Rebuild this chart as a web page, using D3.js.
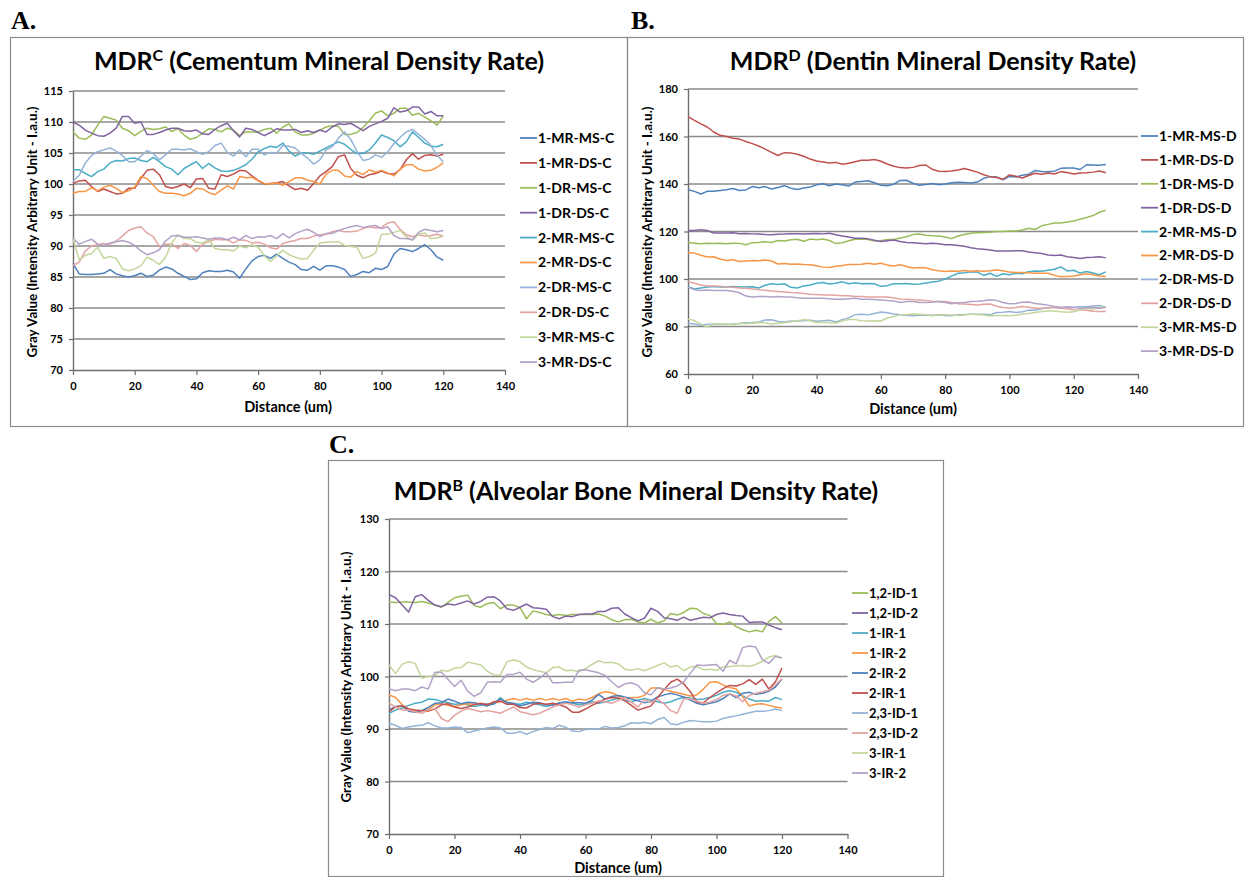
<!DOCTYPE html>
<html>
<head>
<meta charset="utf-8">
<script src="https://cdn.jsdelivr.net/npm/d3@7"></script>
<style>
  body { margin: 0; background: #fff; }
  svg { display: block; }
  text { font-family: Lato, "Open Sans", sans-serif; font-weight: bold; fill: #000; }
</style>
</head>
<body>
<svg id="fig" width="1248" height="877"></svg>
<script>
// distances (um) sampled every 2 um
const distA = d3.range(0, 121, 2)
const distB = d3.range(0, 131, 2)
const distC = d3.range(0, 121, 2)
const distTicks = [0, 20, 40, 60, 80, 100, 120, 140]

const ticksA = [70, 75, 80, 85, 90, 95, 100, 105, 110, 115]
const ticksB = [60, 80, 100, 120, 140, 160, 180]
const ticksC = [70, 80, 90, 100, 110, 120, 130]

const namesA = ["1-MR-MS-C", "1-MR-DS-C", "1-DR-MS-C", "1-DR-DS-C", "2-MR-MS-C", "2-MR-DS-C", "2-DR-MS-C", "2-DR-DS-C", "3-MR-MS-C", "3-MR-DS-C"]
const namesB = ["1-MR-MS-D", "1-MR-DS-D", "1-DR-MS-D", "1-DR-DS-D", "2-MR-MS-D", "2-MR-DS-D", "2-DR-MS-D", "2-DR-DS-D", "3-MR-MS-D", "3-MR-DS-D"]
const namesC = ["1,2-ID-1", "1,2-ID-2", "1-IR-1", "1-IR-2", "2-IR-2", "2-IR-1", "2,3-ID-1", "2,3-ID-2", "3-IR-1", "3-IR-2"]

// ---- A. cementum ----
const cemMRMS1 = [87.2, 85.5, 85.4, 85.4, 85.5, 85.6, 86.2, 85.5, 85.2, 85.0,
  85.2, 85.6, 85.1, 85.3, 86.1, 86.6, 86.3, 85.6, 85.1, 84.6,
  84.7, 85.7, 86.0, 85.9, 85.9, 86.1, 85.8, 84.8, 86.3, 87.6,
  88.3, 88.5, 88.0, 88.7, 88.0, 87.4, 87.0, 86.2, 86.1, 86.7,
  86.1, 86.8, 86.8, 86.6, 86.2, 85.1, 85.4, 85.9, 85.7, 86.4,
  86.2, 86.7, 88.7, 89.6, 89.4, 89.1, 89.6, 90.2, 89.4, 88.2, 87.7]
const cemMRDS1 = [100.1, 100.5, 100.6, 99.6, 98.8, 99.2, 98.8, 98.4, 98.5, 99.3,
  99.3, 100.9, 102.2, 102.4, 101.5, 99.6, 99.3, 99.6, 100.0, 99.4,
  100.8, 100.9, 99.3, 99.2, 101.5, 101.2, 101.6, 102.2, 102.1, 101.3,
  100.6, 100.0, 100.1, 100.2, 100.4, 99.7, 99.1, 99.3, 99.0, 100.1,
  101.3, 102.0, 102.8, 104.4, 104.7, 102.5, 101.4, 101.0, 101.5, 101.7,
  102.1, 101.7, 101.6, 102.3, 103.9, 104.9, 104.0, 104.6, 104.7, 104.5, 104.8]
const cemDRMS1 = [108.4, 107.4, 107.2, 107.9, 109.5, 110.9, 110.6, 110.3, 109.0, 108.6,
  107.8, 108.5, 109.0, 108.8, 108.9, 109.2, 108.5, 108.9, 107.9, 107.2,
  107.5, 108.2, 108.9, 108.8, 108.4, 109.0, 108.7, 107.8, 108.4, 108.4,
  108.4, 108.8, 109.0, 108.2, 109.2, 109.7, 108.4, 107.9, 107.9, 108.2,
  108.7, 109.2, 109.4, 109.3, 108.0, 108.0, 108.3, 109.1, 110.2, 111.4,
  111.8, 111.0, 111.4, 112.2, 112.2, 111.1, 111.4, 110.8, 110.2, 109.5, 111.0]
const cemDRDS1 = [110.0, 109.5, 108.7, 108.2, 107.8, 107.7, 108.2, 109.0, 110.9, 110.9,
  109.8, 110.0, 108.0, 108.0, 108.3, 108.7, 109.0, 109.0, 108.6, 108.5,
  108.7, 108.1, 108.0, 108.8, 109.4, 109.8, 108.6, 107.6, 109.0, 108.8,
  108.3, 107.8, 108.3, 108.9, 108.7, 108.7, 108.8, 108.3, 108.6, 108.3,
  108.7, 108.4, 109.2, 109.7, 109.6, 109.8, 109.2, 108.6, 109.3, 109.7,
  110.1, 110.6, 112.3, 111.6, 111.8, 112.4, 112.4, 111.3, 111.7, 111.0, 111.0]
const cemMRMS2 = [102.3, 102.3, 101.7, 101.2, 102.0, 102.4, 103.4, 103.8, 103.7, 104.1,
  104.2, 103.8, 103.6, 104.3, 103.6, 102.8, 102.4, 101.5, 102.5, 103.1,
  103.6, 102.5, 103.3, 102.6, 102.1, 102.0, 102.2, 102.6, 103.1, 104.0,
  105.2, 105.7, 106.1, 105.9, 106.6, 105.3, 104.5, 105.0, 105.0, 104.8,
  105.3, 105.8, 106.3, 106.8, 106.4, 105.6, 104.9, 104.9, 105.5, 106.6,
  107.9, 107.5, 107.0, 106.0, 106.8, 108.4, 107.5, 106.6, 106.1, 106.0, 106.4]
const cemMRDS2 = [98.5, 98.8, 98.8, 99.4, 98.9, 99.5, 99.8, 99.3, 98.6, 98.9,
  99.5, 101.2, 100.9, 99.8, 98.8, 98.5, 98.5, 98.4, 98.1, 98.5,
  99.3, 99.2, 98.6, 98.3, 99.0, 99.7, 99.2, 101.2, 101.0, 101.1,
  100.5, 100.1, 100.0, 100.2, 99.8, 100.4, 101.0, 101.0, 100.6, 100.4,
  100.0, 101.6, 102.2, 102.2, 101.3, 101.1, 102.0, 101.5, 102.3, 101.9,
  102.2, 101.8, 101.3, 102.4, 103.1, 103.1, 102.4, 102.1, 102.2, 102.7, 103.4]
const cemDRMS2 = [100.4, 101.4, 103.4, 104.6, 105.2, 105.5, 105.8, 105.3, 104.6, 103.6,
  103.6, 104.5, 105.4, 104.9, 103.9, 104.7, 105.6, 105.6, 105.5, 105.7,
  105.2, 104.8, 105.2, 106.2, 106.6, 105.1, 104.5, 105.5, 104.4, 105.6,
  105.6, 104.7, 105.1, 105.0, 106.2, 106.1, 105.8, 104.9, 104.2, 103.2,
  103.9, 105.5, 106.0, 107.4, 108.4, 107.2, 105.3, 103.8, 104.0, 104.7,
  104.3, 105.2, 106.5, 107.5, 108.4, 108.8, 108.0, 107.2, 106.2, 104.6, 103.6]
const cemDRDS2 = [86.9, 87.4, 89.2, 90.0, 90.2, 90.4, 90.3, 90.8, 91.6, 92.5,
  92.9, 93.1, 92.1, 91.5, 89.9, 90.3, 90.3, 89.6, 90.4, 90.1,
  89.1, 90.3, 90.7, 91.1, 91.0, 91.0, 90.5, 91.0, 90.9, 90.5,
  90.6, 90.3, 89.7, 89.5, 90.4, 90.7, 90.9, 91.2, 91.2, 91.6,
  91.8, 91.9, 92.3, 92.5, 92.3, 92.3, 92.4, 92.8, 93.1, 92.9,
  93.0, 93.7, 93.9, 92.7, 91.8, 91.5, 91.8, 91.6, 91.7, 91.9, 91.6]
const cemMRMS3 = [91.2, 87.8, 88.5, 88.8, 89.8, 88.0, 88.3, 88.0, 86.3, 86.0,
  86.3, 86.8, 88.2, 87.7, 87.0, 88.2, 90.5, 91.8, 91.2, 91.2,
  90.6, 90.5, 91.0, 89.6, 89.4, 89.4, 89.2, 90.0, 89.7, 90.2,
  89.8, 88.4, 87.5, 88.4, 89.3, 88.6, 88.2, 87.9, 88.0, 89.3,
  90.5, 90.6, 90.7, 90.7, 90.1, 89.9, 89.8, 88.0, 88.3, 88.8,
  91.9, 91.9, 92.2, 92.5, 91.5, 90.9, 91.9, 92.1, 91.2, 91.3, 91.6]
const cemMRDS3 = [91.2, 90.3, 90.7, 91.1, 90.3, 90.1, 90.5, 90.7, 90.9, 90.6,
  90.1, 89.2, 88.6, 88.9, 89.4, 90.8, 91.6, 91.7, 91.4, 91.4,
  91.5, 91.3, 91.1, 91.3, 91.3, 91.0, 91.4, 91.0, 91.7, 91.2,
  91.5, 91.4, 91.7, 91.2, 92.0, 91.3, 92.0, 92.4, 92.7, 92.2,
  91.5, 92.0, 92.0, 92.5, 92.8, 93.1, 93.3, 93.0, 93.2, 93.3,
  92.8, 93.1, 91.7, 91.2, 91.2, 91.0, 92.2, 92.7, 92.5, 92.3, 92.5]

// ---- B. dentin ----
const denMRMS1 = [137.6, 136.9, 135.8, 136.9, 136.9, 137.3, 137.6, 138.1, 137.3, 137.5,
  138.9, 138.4, 138.9, 137.9, 138.5, 139.3, 138.2, 137.7, 138.3, 138.7,
  139.7, 140.1, 139.3, 140.0, 139.7, 139.1, 140.8, 141.1, 141.4, 140.5,
  139.5, 139.3, 139.9, 141.5, 141.6, 140.3, 139.5, 139.8, 140.2, 139.7,
  140.0, 140.5, 140.7, 140.6, 140.4, 140.8, 142.4, 143.1, 143.0, 141.8,
  143.2, 142.9, 143.7, 144.1, 145.7, 145.3, 145.2, 145.4, 146.6, 146.7,
  146.7, 146.1, 148.1, 148.0, 147.9, 148.2]
const denMRDS1 = [168.4, 166.8, 165.3, 164.0, 161.9, 160.5, 160.0, 159.3, 158.9, 157.9,
  157.0, 156.0, 154.7, 153.3, 152.0, 153.2, 153.1, 152.5, 151.7, 150.5,
  149.7, 149.3, 148.8, 149.1, 148.3, 148.7, 149.4, 150.0, 150.0, 150.3,
  149.6, 148.4, 147.5, 146.9, 146.7, 147.0, 147.8, 148.0, 146.2, 145.4,
  145.3, 145.5, 145.9, 146.5, 145.8, 145.0, 143.9, 143.1, 142.7, 142.0,
  143.8, 143.3, 142.5, 143.6, 144.5, 144.1, 144.6, 144.2, 145.2, 144.8,
  144.2, 144.6, 144.7, 145.0, 145.5, 144.7]
const denDRMS1 = [115.4, 115.1, 114.8, 115.1, 114.9, 115.1, 114.8, 115.1, 115.0, 114.4,
  115.3, 115.4, 115.7, 115.4, 116.2, 116.0, 116.5, 116.7, 115.9, 116.8,
  116.5, 116.8, 116.2, 114.9, 115.3, 116.1, 116.7, 116.8, 116.6, 116.0,
  116.1, 116.6, 116.6, 117.3, 117.8, 118.7, 118.9, 118.4, 118.2, 118.1,
  117.7, 117.0, 118.1, 118.7, 119.3, 119.5, 119.6, 119.7, 120.0, 120.0,
  120.2, 120.2, 120.6, 121.4, 120.8, 122.4, 123.0, 123.6, 123.6, 124.0,
  124.4, 125.2, 125.9, 126.7, 128.1, 128.9]
const denDRDS1 = [120.4, 120.4, 120.7, 120.4, 119.4, 119.4, 119.4, 119.5, 119.1, 119.2,
  119.0, 118.9, 118.7, 118.6, 118.8, 118.9, 119.1, 119.1, 118.9, 119.1,
  119.2, 119.0, 119.3, 118.6, 118.1, 117.7, 117.2, 117.2, 116.9, 116.3,
  115.8, 116.1, 116.4, 115.8, 115.4, 115.3, 115.1, 114.8, 115.1, 114.8,
  114.4, 114.4, 114.1, 113.8, 113.2, 112.7, 112.5, 112.2, 111.8, 111.8,
  111.8, 111.9, 111.9, 111.4, 111.1, 110.7, 110.1, 109.9, 110.1, 109.4,
  109.1, 108.6, 109.1, 109.2, 109.4, 108.9]
const denMRMS2 = [96.8, 95.8, 96.2, 96.6, 96.8, 96.6, 96.6, 96.8, 96.6, 96.6,
  96.7, 96.2, 97.4, 98.0, 97.7, 98.0, 96.5, 96.2, 97.1, 97.5,
  98.2, 98.5, 97.9, 98.2, 98.8, 98.0, 98.4, 98.0, 98.1, 98.0,
  96.9, 97.2, 98.0, 98.0, 98.1, 97.8, 97.9, 98.3, 98.7, 99.1,
  100.0, 101.2, 102.4, 102.6, 103.0, 102.9, 101.5, 102.4, 101.1, 102.2,
  101.8, 102.4, 102.2, 103.1, 103.4, 103.3, 103.7, 104.1, 105.1, 103.4,
  103.7, 102.5, 103.2, 102.5, 101.8, 103.0]
const denMRDS2 = [111.2, 110.9, 110.0, 109.3, 109.4, 108.4, 107.8, 108.1, 107.4, 107.6,
  107.8, 107.7, 108.0, 107.6, 106.3, 106.5, 106.2, 106.3, 106.1, 106.0,
  105.6, 105.0, 104.8, 105.4, 105.7, 106.1, 106.1, 106.2, 106.6, 106.2,
  106.6, 105.9, 105.5, 106.0, 105.3, 104.6, 104.8, 104.7, 103.9, 103.5,
  103.2, 103.4, 103.3, 103.6, 103.3, 103.5, 103.3, 103.5, 103.8, 103.5,
  102.9, 102.7, 102.7, 102.6, 102.4, 102.4, 102.4, 101.6, 100.9, 101.1,
  101.3, 101.8, 102.2, 101.8, 101.3, 101.1]
const denDRMS2 = [81.4, 81.1, 80.4, 81.0, 81.1, 80.8, 81.0, 81.1, 81.3, 81.6,
  81.7, 81.9, 82.7, 82.8, 82.1, 81.9, 82.3, 82.3, 82.4, 82.6,
  82.2, 82.4, 82.6, 81.9, 82.9, 83.6, 85.0, 85.2, 84.9, 85.5,
  86.1, 85.8, 85.3, 84.9, 84.7, 84.5, 84.7, 84.7, 84.7, 84.9,
  84.6, 84.5, 84.9, 85.0, 85.3, 85.1, 85.2, 84.9, 85.9, 86.0,
  86.3, 85.9, 86.2, 86.9, 86.8, 87.5, 88.0, 88.0, 87.8, 87.7,
  88.0, 88.3, 88.3, 88.6, 88.8, 88.1]
const denDRDS2 = [98.9, 98.2, 97.5, 97.1, 97.1, 96.9, 96.6, 96.5, 96.2, 96.1,
  95.8, 95.5, 95.3, 94.9, 94.7, 94.5, 94.3, 94.2, 93.9, 93.6,
  93.5, 93.3, 93.3, 93.2, 92.9, 92.9, 92.6, 92.6, 92.4, 92.4,
  92.4, 92.4, 92.0, 91.6, 91.5, 91.3, 91.2, 91.0, 90.6, 90.5,
  90.5, 90.1, 89.6, 89.5, 89.3, 89.1, 89.4, 89.5, 88.5, 88.0,
  87.7, 88.0, 88.4, 88.1, 87.7, 87.7, 87.8, 88.1, 87.7, 87.5,
  87.1, 87.0, 86.8, 86.4, 86.3, 86.3]
const denMRMS3 = [83.1, 82.5, 81.0, 79.8, 81.1, 81.1, 81.1, 80.7, 81.4, 81.2,
  81.4, 81.7, 81.5, 81.1, 81.4, 81.6, 82.0, 82.4, 82.9, 82.5,
  81.6, 81.8, 81.6, 81.5, 82.4, 82.9, 82.9, 82.4, 82.3, 82.4,
  82.3, 83.6, 84.2, 84.9, 85.0, 85.3, 85.2, 84.9, 84.5, 84.9,
  84.9, 84.8, 84.6, 84.8, 85.2, 85.2, 84.9, 84.4, 84.6, 84.6,
  84.5, 84.7, 85.3, 85.5, 85.9, 86.3, 86.5, 86.5, 86.2, 86.0,
  86.2, 87.0, 87.7, 87.3, 88.1, 88.4]
const denMRDS3 = [96.6, 95.5, 95.2, 95.4, 95.2, 95.2, 95.2, 94.8, 94.2, 92.8,
  92.4, 92.6, 92.6, 92.4, 92.6, 92.4, 92.4, 92.1, 91.9, 91.9,
  91.9, 91.9, 91.7, 91.5, 91.5, 91.7, 91.9, 91.5, 91.5, 91.4,
  91.2, 90.9, 90.7, 90.1, 90.5, 90.5, 90.1, 90.1, 90.2, 90.5,
  90.1, 89.6, 90.0, 90.1, 90.5, 90.6, 90.8, 91.3, 91.0, 90.1,
  89.6, 89.7, 90.2, 90.3, 89.7, 89.4, 89.0, 88.4, 88.1, 88.3,
  88.1, 87.7, 87.9, 88.1, 87.7, 88.1]

// ---- C. alveolar bone ----
const bonID1a = [114.2, 114.1, 114.2, 114.2, 114.1, 114.3, 114.0, 113.6, 113.2, 114.1,
  115.0, 115.3, 115.5, 113.5, 113.2, 113.9, 114.1, 112.9, 113.6, 113.6,
  113.1, 111.0, 112.5, 112.2, 111.8, 111.6, 111.8, 111.6, 111.8, 111.8,
  111.8, 111.8, 111.9, 111.5, 110.8, 110.4, 110.8, 110.9, 110.4, 110.2,
  110.9, 110.2, 110.6, 112.0, 111.7, 112.2, 113.0, 112.9, 112.0, 111.6,
  110.1, 109.9, 110.4, 109.5, 108.9, 108.5, 108.8, 108.5, 110.5, 111.4, 110.2]
const bonID2a = [115.6, 115.0, 113.6, 112.3, 115.2, 115.6, 114.5, 113.6, 113.3, 113.8,
  113.6, 114.0, 114.4, 113.8, 114.3, 115.1, 115.2, 114.4, 112.9, 112.6,
  113.2, 113.8, 113.1, 113.0, 112.8, 111.4, 111.0, 111.5, 111.4, 111.8,
  111.9, 111.9, 112.4, 112.4, 113.0, 113.1, 111.9, 111.2, 110.6, 111.1,
  113.0, 112.4, 111.2, 111.0, 110.7, 111.3, 110.7, 111.0, 111.3, 111.2,
  111.8, 112.1, 111.8, 111.6, 111.5, 110.3, 110.4, 110.4, 109.8, 109.3, 108.9]
const bonIR1a = [93.0, 93.6, 94.0, 94.5, 94.9, 95.1, 95.7, 95.6, 95.3, 95.0,
  94.7, 94.8, 94.6, 94.3, 94.5, 94.8, 94.7, 96.0, 94.9, 94.8,
  94.7, 95.1, 94.9, 94.6, 94.3, 94.6, 94.9, 95.2, 94.9, 94.6,
  94.8, 95.2, 94.9, 95.2, 95.5, 95.8, 95.5, 95.2, 95.5, 95.8,
  95.5, 95.2, 94.9, 95.2, 95.7, 96.0, 95.9, 95.6, 95.7, 96.0,
  96.4, 97.0, 97.3, 97.0, 96.3, 95.7, 95.3, 95.4, 95.3, 96.0, 95.6]
const bonIR2a = [96.5, 96.0, 94.6, 93.8, 93.5, 93.5, 93.7, 94.6, 94.8, 94.5,
  94.3, 94.6, 94.8, 94.7, 94.8, 94.6, 94.9, 95.2, 95.5, 95.8,
  95.5, 95.8, 95.5, 95.8, 95.5, 95.8, 95.5, 95.8, 95.3, 95.7,
  95.5, 96.0, 96.7, 97.1, 96.9, 96.3, 95.9, 96.0, 96.0, 96.4,
  97.8, 97.8, 97.5, 97.2, 96.9, 96.6, 96.3, 96.5, 97.6, 98.9,
  99.0, 98.4, 97.9, 97.6, 96.2, 94.4, 94.7, 94.8, 94.5, 94.2, 94.0]
const bonIR2b = [93.6, 94.3, 94.4, 93.4, 93.2, 93.5, 94.1, 94.9, 95.0, 95.7,
  95.3, 94.8, 95.1, 95.0, 94.7, 94.4, 94.8, 95.7, 95.1, 94.9,
  94.4, 94.7, 95.1, 95.0, 94.6, 94.5, 95.0, 95.1, 95.0, 95.0,
  94.9, 95.5, 96.6, 95.7, 96.2, 96.4, 96.1, 95.7, 95.4, 95.0,
  95.3, 96.1, 96.5, 96.8, 96.5, 96.1, 95.5, 94.9, 94.6, 94.9,
  95.2, 95.8, 96.7, 96.0, 96.8, 97.0, 96.6, 96.8, 97.2, 98.0, 99.5]
const bonIR1b = [93.3, 94.2, 94.4, 93.8, 93.6, 93.5, 93.4, 93.8, 94.6, 94.8,
  94.2, 93.9, 94.2, 94.6, 94.9, 94.6, 95.2, 95.3, 94.7, 94.7,
  94.1, 94.0, 94.7, 94.9, 94.7, 94.9, 94.6, 94.2, 93.2, 93.2,
  93.8, 94.5, 95.1, 95.7, 96.0, 95.9, 95.4, 94.5, 93.6, 94.0,
  94.4, 96.0, 97.5, 98.9, 99.5, 98.6, 97.1, 95.1, 95.0, 96.0,
  96.9, 97.7, 98.3, 98.2, 98.6, 99.4, 98.5, 99.5, 97.6, 99.0, 101.6]
const bonID1b = [91.1, 90.7, 90.1, 90.4, 90.6, 90.7, 91.2, 90.6, 90.2, 90.2,
  90.4, 90.3, 89.3, 89.6, 89.9, 90.2, 90.4, 90.2, 89.2, 89.2,
  89.5, 89.0, 89.5, 89.9, 90.3, 90.1, 90.7, 90.3, 89.6, 89.5,
  89.9, 90.0, 90.0, 90.5, 90.2, 90.3, 90.6, 91.2, 91.1, 91.3,
  91.0, 91.8, 92.2, 91.0, 90.8, 91.3, 91.6, 91.5, 91.4, 91.4,
  91.5, 92.0, 92.3, 92.5, 92.8, 93.1, 93.4, 93.4, 93.5, 93.8, 93.5]
const bonID2b = [94.9, 94.2, 93.6, 93.6, 93.3, 93.0, 93.6, 93.9, 92.0, 91.4,
  92.6, 93.4, 93.9, 93.6, 93.3, 93.5, 93.3, 93.0, 93.6, 94.2,
  93.3, 93.0, 92.7, 93.0, 93.6, 94.2, 94.6, 94.9, 94.6, 94.2,
  94.6, 94.9, 95.4, 95.2, 94.9, 95.4, 96.0, 95.1, 94.2, 95.6,
  95.1, 95.7, 94.8, 93.5, 93.0, 95.7, 95.8, 95.3, 94.9, 95.1,
  95.6, 96.4, 96.7, 96.3, 95.2, 96.4, 96.8, 97.1, 97.4, 98.4, 99.6]
const bonIR1c = [102.2, 100.6, 102.3, 102.8, 102.5, 99.7, 100.0, 100.2, 101.2, 101.0,
  101.6, 101.7, 102.7, 102.5, 102.2, 101.0, 100.3, 100.3, 102.8, 103.2,
  102.8, 101.8, 101.3, 101.0, 100.7, 101.7, 101.8, 101.1, 101.2, 100.9,
  101.5, 102.3, 103.0, 102.6, 102.7, 102.4, 101.4, 101.2, 101.5, 101.1,
  101.6, 102.1, 102.6, 101.8, 102.1, 101.1, 101.8, 101.9, 101.3, 101.4,
  101.2, 101.8, 101.9, 102.0, 102.1, 101.9, 102.3, 102.9, 103.7, 104.0, 103.6]
const bonIR2c = [97.6, 97.3, 97.6, 97.6, 97.3, 98.0, 97.6, 100.8, 100.8, 99.5,
  98.1, 99.3, 97.2, 96.2, 96.9, 98.9, 99.0, 98.9, 100.4, 100.4,
  100.8, 99.5, 98.9, 99.7, 100.7, 98.8, 98.8, 98.9, 98.9, 101.2,
  101.3, 101.0, 100.7, 100.2, 99.0, 97.9, 98.6, 98.8, 98.3, 96.9,
  96.5, 97.9, 97.6, 97.8, 98.2, 99.0, 100.6, 102.2, 102.1, 102.2,
  102.3, 101.0, 103.1, 102.4, 105.5, 105.8, 105.6, 103.2, 102.5, 103.8, 103.5]

const palette = ["#4f81bd", "#c0504d", "#9bbb59", "#8064a2", "#4bacc6", "#f79646", "#95b3d7", "#e3a3a1", "#c3d69b", "#b3a2c7"]
const colorsC = [palette[2], palette[3], palette[4], palette[5], palette[0], palette[1], palette[6], palette[7], palette[8], palette[9]]

const svg = d3.select("#fig")

const panels = [
  {
    tag: "A.", tagX: 11, tagY: 29,
    box: [10, 37, 627, 426],
    x0: 73, x1: 505, yTop: 91, yBot: 370,
    yDomain: [70, 115], yTicks: ticksA, dist: distA,
    sup: "C", rest: "(Cementum Mineral Density Rate)", titleX: 319, titleY: 70,
    yTitleX: 32, yTitleY: 232, xTitleX: 288, xTitleY: 412,
    series: [cemMRMS1, cemMRDS1, cemDRMS1, cemDRDS1, cemMRMS2, cemMRDS2, cemDRMS2, cemDRDS2, cemMRMS3, cemMRDS3],
    names: namesA, colors: palette,
    legX: 520, legY: 138, legStep: 24.9, legLen: 17, legFont: 14
  },
  {
    tag: "B.", tagX: 631, tagY: 29,
    box: [627, 37, 1243, 426],
    x0: 688, x1: 1138, yTop: 89, yBot: 374,
    yDomain: [60, 180], yTicks: ticksB, dist: distB,
    sup: "D", rest: "(Dentin Mineral Density Rate)", titleX: 933, titleY: 70,
    yTitleX: 647, yTitleY: 232, xTitleX: 913, xTitleY: 414,
    series: [denMRMS1, denMRDS1, denDRMS1, denDRDS1, denMRMS2, denMRDS2, denDRMS2, denDRDS2, denMRMS3, denMRDS3],
    names: namesB, colors: palette,
    legX: 1141, legY: 136, legStep: 23.9, legLen: 17, legFont: 14
  },
  {
    tag: "C.", tagX: 329, tagY: 453,
    box: [328, 460, 943, 876],
    x0: 389, x1: 847.5, yTop: 519, yBot: 834,
    yDomain: [70, 130], yTicks: ticksC, dist: distC,
    sup: "B", rest: "(Alveolar Bone Mineral Density Rate)", titleX: 636, titleY: 500,
    yTitleX: 346, yTitleY: 677, xTitleX: 618, xTitleY: 873,
    series: [bonID1a, bonID2a, bonIR1a, bonIR2a, bonIR2b, bonIR1b, bonID1b, bonID2b, bonIR1c, bonIR2c],
    names: namesC, colors: colorsC,
    legX: 852, legY: 593, legStep: 20, legLen: 16, legFont: 13
  }
]

const drawPanel = (p) => {
  const g = svg.append("g")

  g.append("rect")
    .attr("x", p.box[0] + 0.5).attr("y", p.box[1] + 0.5)
    .attr("width", p.box[2] - p.box[0]).attr("height", p.box[3] - p.box[1])
    .attr("fill", "none").attr("stroke", "#8c8c8c").attr("stroke-width", 1.2)

  svg.append("text")
    .attr("x", p.tagX).attr("y", p.tagY)
    .style("font-family", "'Liberation Serif', 'DejaVu Serif', serif")
    .style("font-size", "26px")
    .text(p.tag)

  const x = d3.scaleLinear().domain([0, 140]).range([p.x0, p.x1])
  const y = d3.scaleLinear().domain(p.yDomain).range([p.yBot, p.yTop])

  // horizontal gridlines
  g.selectAll(".grid").data(p.yTicks.filter(t => t > p.yDomain[0])).join("line")
    .attr("x1", p.x0).attr("x2", p.x1)
    .attr("y1", d => y(d)).attr("y2", d => y(d))
    .attr("stroke", "#8a8a8a").attr("stroke-width", 1.6)

  const yAxis = g.append("g").attr("transform", `translate(${p.x0},0)`)
    .call(d3.axisLeft(y).tickValues(p.yTicks).tickSize(4).tickSizeOuter(0).tickPadding(6))
  const xAxis = g.append("g").attr("transform", `translate(0,${p.yBot})`)
    .call(d3.axisBottom(x).tickValues(distTicks).tickSize(5).tickSizeOuter(0).tickPadding(7))
  for (const ax of [yAxis, xAxis]) {
    ax.select(".domain").attr("stroke", "#6e6e6e").attr("stroke-width", 1.4)
    ax.selectAll(".tick line").attr("stroke", "#6e6e6e").attr("stroke-width", 1.2)
    ax.selectAll(".tick text").attr("fill", "#000")
      .style("font-family", "Lato, sans-serif").style("font-weight", "bold").style("font-size", "11px")
  }

  // series lines
  const line = d3.line().x((d, i) => x(p.dist[i])).y(d => y(d))
  p.series.forEach((s, i) => {
    g.append("path")
      .attr("d", line(s))
      .attr("fill", "none")
      .attr("stroke", p.colors[i])
      .attr("stroke-width", 1.5)
      .attr("stroke-linejoin", "round")
  })

  // title with superscript
  const t = g.append("text")
    .attr("x", p.titleX).attr("y", p.titleY)
    .attr("text-anchor", "middle")
    .style("font-size", "25px")
  t.append("tspan").text("MDR")
  t.append("tspan").text(p.sup).attr("dy", -9).style("font-size", "16px")
  t.append("tspan").text(" " + p.rest).attr("dy", 9)

  g.append("text")
    .attr("transform", `translate(${p.yTitleX},${p.yTitleY}) rotate(-90)`)
    .attr("text-anchor", "middle").attr("dy", "0.35em")
    .style("font-size", "13.4px")
    .text("Gray Value (Intensity Arbitrary Unit - I.a.u.)")

  g.append("text")
    .attr("x", p.xTitleX).attr("y", p.xTitleY)
    .attr("text-anchor", "middle")
    .style("font-size", "14.5px")
    .text("Distance (um)")

  // legend
  const leg = g.selectAll(".leg").data(p.names).join("g")
    .attr("transform", (d, i) => `translate(${p.legX},${p.legY + i * p.legStep})`)
  leg.append("line")
    .attr("x1", 0).attr("x2", p.legLen)
    .attr("stroke", (d, i) => p.colors[i]).attr("stroke-width", 1.8)
  leg.append("text")
    .attr("x", p.legLen + 1).attr("dy", "0.35em")
    .style("font-size", p.legFont + "px")
    .text(d => d)
}

panels.forEach(drawPanel)
</script>
</body>
</html>
